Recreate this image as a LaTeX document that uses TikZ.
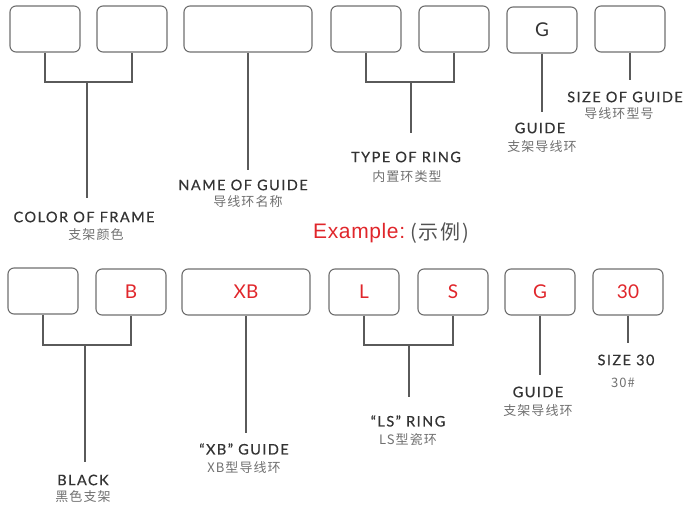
\documentclass[tikz,border=0pt]{standalone}
\usepackage{fontspec}
\setmainfont{Lato}[LetterSpace=10, FakeBold=0.5]
\newfontfamily\slotfont{Lato}
\newfontfamily\cjk{Noto Sans CJK SC}[LetterSpace=8]
\newfontfamily\exfont{Liberation Sans}[LetterSpace=3]
\usepackage{xcolor}
\usetikzlibrary{positioning}

\definecolor{framegray}{HTML}{6E6E6E}
\definecolor{wiregray}{HTML}{5A5A5A}
\definecolor{textdark}{HTML}{333333}
\definecolor{textlight}{HTML}{707070}
\definecolor{codered}{HTML}{E0262B}

\tikzset{
  slot/.style={draw=framegray, line width=1.1pt, rounded corners=6pt, minimum width=70pt,
    minimum height=46pt, inner sep=0pt, text=codered, font=\slotfont\fontsize{19}{19}\selectfont},
  wideslot/.style={slot, minimum width=128pt},
  wire/.style={draw=wiregray, line width=1.2pt},
  en/.style={text=textdark, inner sep=0pt, font=\fontsize{14.5}{14.5}\selectfont},
  cn/.style={text=textlight, inner sep=0pt, font=\cjk\fontsize{13}{13}\selectfont},
}

\begin{document}
\begin{tikzpicture}[x=1pt, y=-1pt]
\useasboundingbox (0,0) rectangle (683,505);

% top row: empty code
\node[slot] (tframeA) at (45,29) {};
\node[slot] (tframeB) at (132,29) {};
\node[wideslot] (tname) at (248,29) {};
\node[slot] (tringA) at (366,29) {};
\node[slot] (tringB) at (454,29) {};
\node[slot, text=textdark] (tguide) at (542,30) {G};
\node[slot] (tsize) at (630,29) {};

\coordinate (tframebr) at (87,82);
\coordinate (tframeend) at (87,198);
\draw[wire] (tframeA.south) |- (tframebr) -| (tframeB.south);
\draw[wire] (tframebr) -- (tframeend);
\node[en] (tframelbl) at (84,217) {COLOR OF FRAME};
\node[cn] (tframecn) at (96,235) {支架颜色};

\coordinate (tnameend) at (248,170);
\draw[wire] (tname.south) -- (tnameend);
\node[en] (tnamelbl) at (243,185) {NAME OF GUIDE};
\node[cn] (tnamecn) at (248,202) {导线环名称};

\coordinate (tringbr) at (411,82);
\coordinate (tringend) at (411,133);
\draw[wire] (tringA.south) |- (tringbr) -| (tringB.south);
\draw[wire] (tringbr) -- (tringend);
\node[en] (tringlbl) at (406,157) {TYPE OF RING};
\node[cn] (tringcn) at (407,177) {内置环类型};

\coordinate (tguideend) at (542,112);
\draw[wire] (tguide.south) -- (tguideend);
\node[en] (tguidelbl) at (540,128) {GUIDE};
\node[cn] (tguidecn) at (542,147) {支架导线环};

\coordinate (tsizeend) at (630,80);
\draw[wire] (tsize.south) -- (tsizeend);
\node[en] (tsizelbl) at (625,97) {SIZE OF GUIDE};
\node[cn] (tsizecn) at (619,114) {导线环型号};

% example heading
\node[anchor=west, inner sep=0pt, text=codered, font=\exfont\fontsize{21}{21}\selectfont] (extitle) at (313,233) {Example:};
\node[right=5pt of extitle, inner sep=0pt, text=textdark!85, font=\cjk\fontsize{20}{20}\selectfont] (excn) {(示例)};

% bottom row: filled code
\node[slot] (bframeA) at (43,291) {};
\node[slot] (bframeB) at (131,292) {B};
\node[wideslot] (bname) at (246,292) {XB};
\node[slot] (bringA) at (364,292) {L};
\node[slot] (bringB) at (453,292) {S};
\node[slot] (bguide) at (540,292) {G};
\node[slot] (bsize) at (628,292) {30};

\coordinate (bframebr) at (85,345);
\coordinate (bframeend) at (85,462);
\draw[wire] (bframeA.south) |- (bframebr) -| (bframeB.south);
\draw[wire] (bframebr) -- (bframeend);
\node[en] (bframelbl) at (83,480) {BLACK};
\node[cn] (bframecn) at (83,497) {黑色支架};

\coordinate (bnameend) at (246,433);
\draw[wire] (bname.south) -- (bnameend);
\node[en] (bnamelbl) at (244,449) {“XB” GUIDE};
\node[cn] (bnamecn) at (244,468) {XB型导线环};

\coordinate (bringbr) at (409,345);
\coordinate (bringend) at (409,397);
\draw[wire] (bringA.south) |- (bringbr) -| (bringB.south);
\draw[wire] (bringbr) -- (bringend);
\node[en] (bringlbl) at (408,421) {“LS” RING};
\node[cn] (bringcn) at (408,440) {LS型瓷环};

\coordinate (bguideend) at (540,375);
\draw[wire] (bguide.south) -- (bguideend);
\node[en] (bguidelbl) at (538,392) {GUIDE};
\node[cn] (bguidecn) at (538,411) {支架导线环};

\coordinate (bsizeend) at (628,343);
\draw[wire] (bsize.south) -- (bsizeend);
\node[en] (bsizelbl) at (626,360) {SIZE 30};
\node[cn] (bsizecn) at (623,383) {30\#};
\end{tikzpicture}
\end{document}
